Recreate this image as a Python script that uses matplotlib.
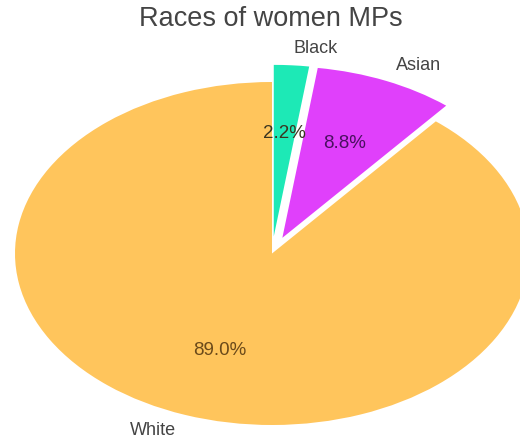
import matplotlib
matplotlib.use("Agg")
import matplotlib.pyplot as plt

plt.rcParams["font.family"] = ["Liberation Sans", "DejaVu Sans"]

labels = ["Black", "Asian", "White"]
shares = [2.2, 8.8, 89.0]
explode = [0.1, 0.1, 0.0]
colors = ["#1de9b6", "#e040fb", "#ffc55c"]
pct_colors = ["#3a3520", "#4a1060", "#6b4a1a"]

fig = plt.figure(figsize=(5.2, 4.41), dpi=100)
ax = fig.add_axes([0, 0, 1, 1])

wedges, texts, autotexts = ax.pie(
    shares,
    labels=labels,
    explode=explode,
    colors=colors,
    autopct="%1.1f%%",
    startangle=90,
    counterclock=False,
    textprops={"fontsize": 13},
)
for t in texts:
    t.set_color("#444444")
for t, c in zip(autotexts, pct_colors):
    t.set_color(c)
    t.set_fontsize(13.5)

# squashed pie: stretch x and y independently
ax.set_aspect("auto")
ax.set_xlim(-272 / 257, 248 / 257)
ax.set_ylim(-187.5 / 171.5, 253.5 / 171.5)
ax.axis("off")

fig.text(271 / 520, 1 - 19 / 441, "Races of women MPs", ha="center", va="center",
         fontsize=19.5, color="#444444")

fig.savefig("out.png", dpi=100)
